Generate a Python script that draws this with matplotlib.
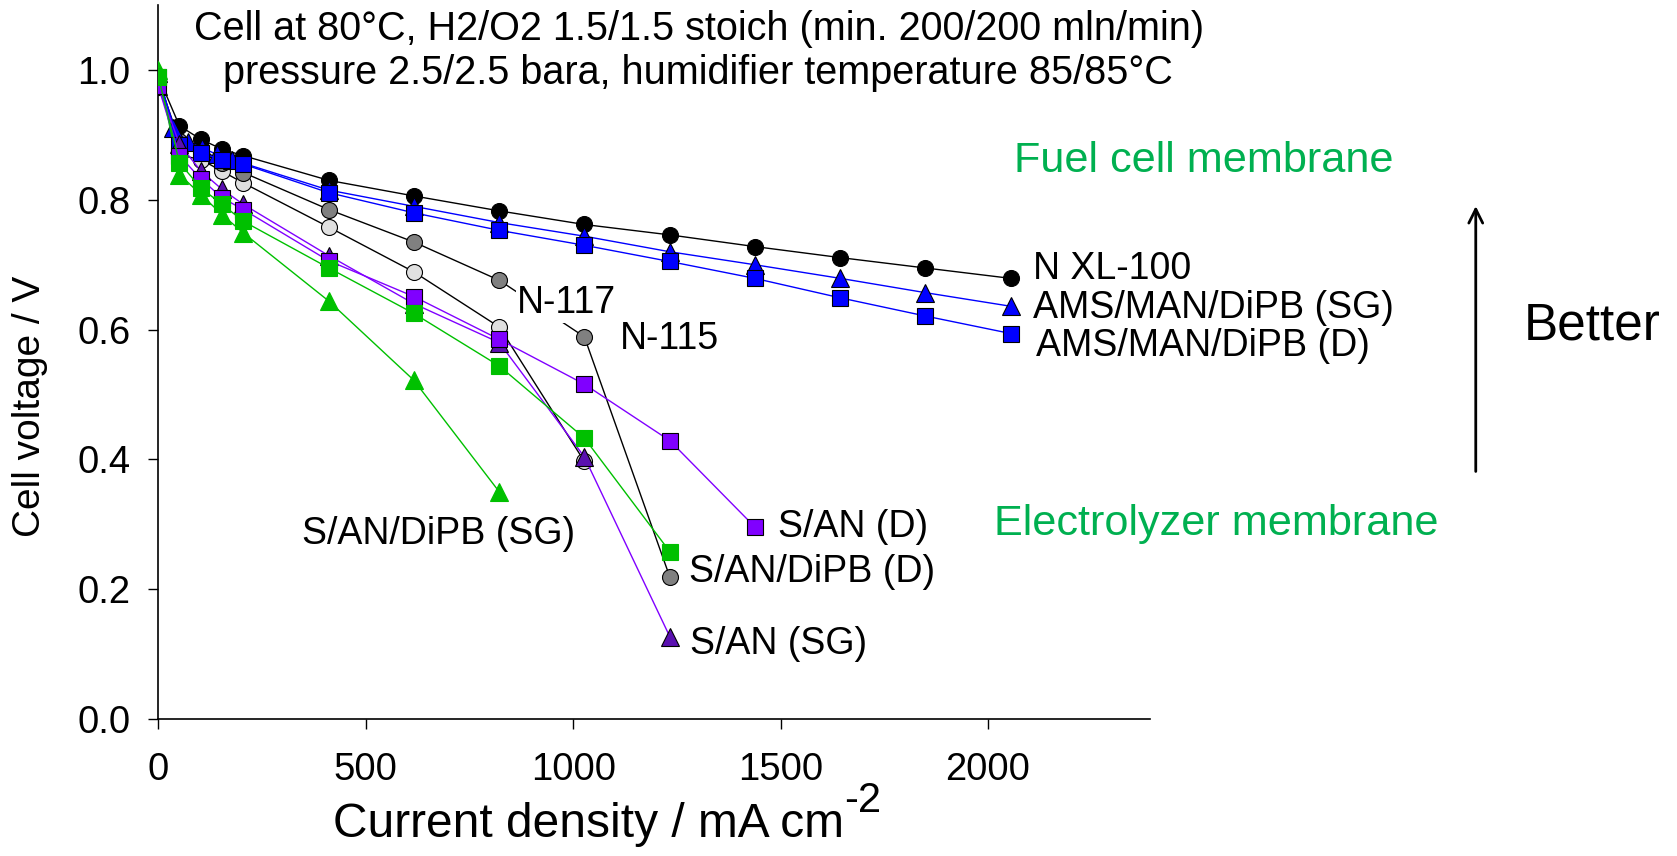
import matplotlib
matplotlib.use("Agg")
import matplotlib.pyplot as plt
from matplotlib import font_manager

plt.rcParams['font.family'] = ['Liberation Sans', 'DejaVu Sans']

# current density (mA cm-2) and cell voltage (V)
cd = [0, 51, 103, 154, 205, 411, 616, 822, 1027, 1233, 1438, 1644, 1849, 2055]
cd_sg = [0, 35, 71, 106, 141, 177, 411, 616, 822, 1027, 1233, 1438, 1644, 1849, 2055]

v_nxl100 = [0.99, 0.914, 0.893, 0.878, 0.868, 0.830, 0.806, 0.783, 0.762, 0.746, 0.728, 0.711, 0.695, 0.679]
v_ams_sg = [0.995, 0.911, 0.889, 0.880, 0.870, 0.862, 0.815, 0.790, 0.765, 0.744, 0.720, 0.700, 0.679, 0.657, 0.636]
v_ams_d = [0.99, 0.885, 0.872, 0.862, 0.855, 0.811, 0.780, 0.753, 0.730, 0.705, 0.679, 0.649, 0.621, 0.594]
v_n117 = [0.98, 0.869, 0.862, 0.844, 0.826, 0.758, 0.689, 0.604, 0.397]
v_n115 = [0.985, 0.891, 0.880, 0.857, 0.842, 0.785, 0.735, 0.676, 0.589, 0.219]
v_san_d = [0.975, 0.868, 0.832, 0.803, 0.785, 0.706, 0.651, 0.585, 0.516, 0.429, 0.296]
v_san_sg = [0.975, 0.886, 0.844, 0.816, 0.793, 0.714, 0.640, 0.580, 0.404, 0.127]
v_sandipb_d = [0.99, 0.857, 0.818, 0.793, 0.767, 0.695, 0.625, 0.544, 0.433, 0.258]
v_sandipb_sg = [1.0, 0.839, 0.808, 0.777, 0.749, 0.644, 0.522, 0.350]

names = {f.name for f in font_manager.fontManager.ttflist}
if 'Liberation Sans Narrow' in names:
    narrow, nscale = 'Liberation Sans Narrow', 1.0
else:
    narrow, nscale = 'Liberation Sans', 0.82

fig = plt.figure(figsize=(16.77, 8.56), dpi=100)
ax = fig.add_axes([0.0944, 0.16, 0.5912, 0.834])

line_kw = dict(lw=1.0, markeredgecolor='black', markeredgewidth=0.8)
ax.plot(cd[:9], v_n117, '-o', color='black', markerfacecolor='#e0e0e0', ms=11.5, zorder=3, **line_kw)
ax.plot(cd[:10], v_n115, '-o', color='black', markerfacecolor='#808080', ms=11.5, zorder=3, **line_kw)
ax.plot(cd, v_nxl100, '-o', color='black', markerfacecolor='black', ms=11.5, zorder=4, **line_kw)
ax.plot(cd_sg, v_ams_sg, '-^', color='#0000ff', markerfacecolor='#0000ff', ms=12.5, zorder=5, **line_kw)
ax.plot(cd, v_ams_d, '-s', color='#0000ff', markerfacecolor='#0000ff', ms=11, zorder=6, **line_kw)
ax.plot(cd[:8], v_sandipb_sg, '-^', color='#00c000', markerfacecolor='#00c000', ms=12.5, zorder=5,
        lw=1.0, markeredgecolor='#00c000', markeredgewidth=0.8)
ax.plot(cd[:10], v_san_sg, '-^', color='#8000ff', markerfacecolor='#5a10b0', ms=12.5, zorder=6, **line_kw)
ax.plot(cd[:11], v_san_d, '-s', color='#8000ff', markerfacecolor='#8000ff', ms=11, zorder=7, **line_kw)
ax.plot(cd[:10], v_sandipb_d, '-s', color='#00c000', markerfacecolor='#00c000', ms=11, zorder=8,
        lw=1.0, markeredgecolor='#00c000', markeredgewidth=0.8)

ax.set_xlim(0, 2390)
ax.set_ylim(0, 1.1)
ax.set_xticks([0, 500, 1000, 1500, 2000])
ax.set_yticks([0.0, 0.2, 0.4, 0.6, 0.8, 1.0])
ax.set_yticklabels(['0.0', '0.2', '0.4', '0.6', '0.8', '1.0'])
ax.tick_params(direction='out', length=7, width=1, labelsize=27.5)
ax.tick_params(axis='x', pad=17)
ax.tick_params(axis='y', pad=13)
for s in ['top', 'right']:
    ax.spines[s].set_visible(False)
for s in ['left', 'bottom']:
    ax.spines[s].set_linewidth(1.2)
ax.patch.set_alpha(0)

ax.set_xlabel('Current density / mA cm', fontsize=34.5)
ax.xaxis.label.set_verticalalignment('center')
ax.xaxis.set_label_coords(0.434, -0.148)
ax.annotate('-2', xy=(1.0, 0.58), xycoords=ax.xaxis.label, fontsize=30,
            ha='left', va='bottom', annotation_clip=False)
ax.set_ylabel('Cell voltage / V', fontsize=28)
ax.yaxis.label.set_verticalalignment('center')
ax.yaxis.set_label_coords(-0.129, 0.438)

# curve labels
lab = dict(fontsize=27, va='center', ha='left', zorder=10)
ax.text(2108, 0.694, 'N XL-100', **lab)
ax.text(2108, 0.634, 'AMS/MAN/DiPB (SG)', **lab)
ax.text(2116, 0.575, 'AMS/MAN/DiPB (D)', **lab)
ax.text(865, 0.641, 'N-117', bbox=dict(facecolor='white', edgecolor='none', pad=1), **lab)
ax.text(1112, 0.586, 'N-115', **lab)
ax.text(1493, 0.296, 'S/AN (D)', **lab)
ax.text(1279, 0.227, 'S/AN/DiPB (D)', **lab)
ax.text(1282, 0.116, 'S/AN (SG)', **lab)
ax.text(347, 0.285, 'S/AN/DiPB (SG)', **lab)

# header
fig.text(0.417, 0.966, 'Cell at 80°C, H2/O2 1.5/1.5 stoich (min. 200/200 mln/min)',
         fontsize=28.5, ha='center', va='center')
fig.text(0.416, 0.915, 'pressure 2.5/2.5 bara, humidifier temperature 85/85°C',
         fontsize=28.5, ha='center', va='center')

green = '#00b050'
fig.text(0.6046, 0.8125, 'Fuel cell membrane', fontsize=38 * nscale, color=green,
         family=narrow, ha='left', va='center')
fig.text(0.593, 0.3875, 'Electrolyzer membrane', fontsize=38 * nscale, color=green,
         family=narrow, ha='left', va='center')
fig.text(0.9088, 0.619, 'Better', fontsize=45 * nscale, family=narrow, ha='left', va='center')
fig.add_artist(matplotlib.patches.FancyArrowPatch((0.880, 0.446), (0.880, 0.7625),
               transform=fig.transFigure, arrowstyle='->,head_length=10,head_width=5',
               color='black', lw=2))

fig.savefig('out.png', dpi=100)
